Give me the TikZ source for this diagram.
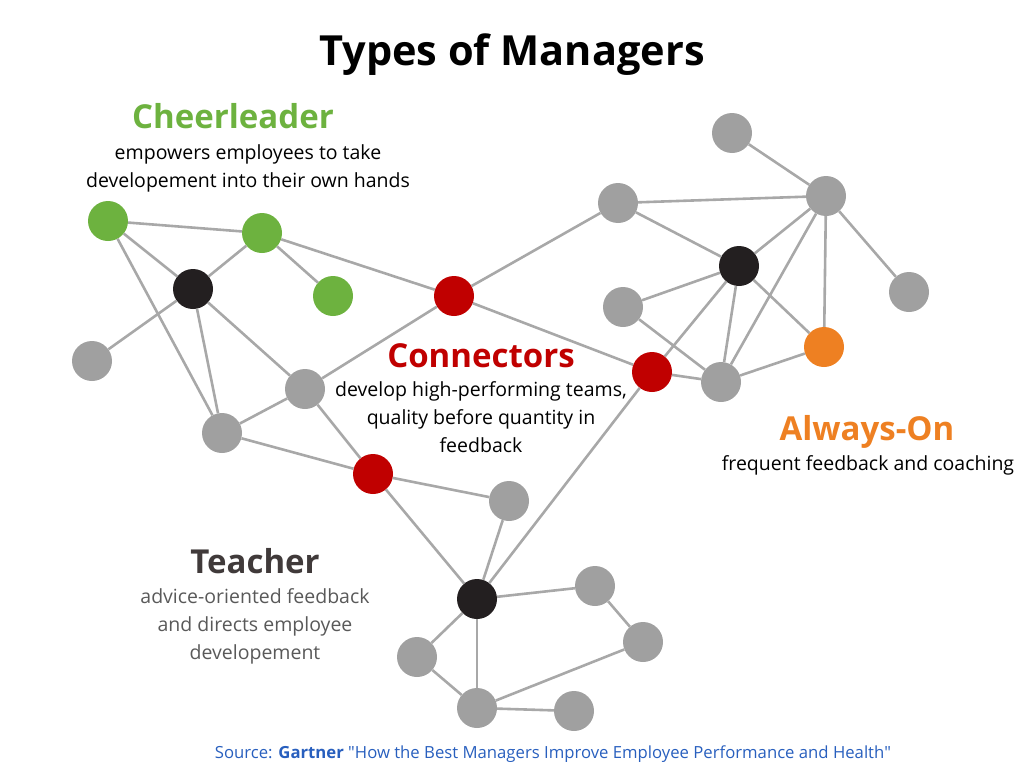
\documentclass[tikz,border=0pt]{standalone}
\usepackage{fontspec}
\setmainfont{Open Sans}
\usepackage{xcolor}
\usepackage{tikz}
\usetikzlibrary{positioning}
\definecolor{leafgreen}{RGB}{109,178,63}
\definecolor{linkred}{RGB}{192,0,0}
\definecolor{tangerine}{RGB}{238,128,34}
\definecolor{dotgray}{RGB}{160,160,160}
\definecolor{edgegray}{RGB}{168,168,168}
\definecolor{inkblack}{RGB}{35,31,32}
\definecolor{slate}{RGB}{64,58,58}
\definecolor{ashgray}{RGB}{89,89,89}
\definecolor{sourceblue}{RGB}{40,95,190}

\begin{document}
\begin{tikzpicture}[x=1pt, y=-1pt]
  \tikzstyle{mgrdot} = [circle, minimum size=40pt, inner sep=0pt, fill=dotgray]
  \tikzstyle{mgrlink} = [draw=edgegray, line width=2.6pt]
  \tikzstyle{mgrhead} = [anchor=base, font=\fontsize{33}{40}\selectfont\bfseries]
  \tikzstyle{mgrtext} = [anchor=base, align=center, font=\fontsize{19.5}{28}\selectfont]

  \useasboundingbox (0,0) rectangle (1024,768);

  % titles and descriptions (base = last line)
  \node [anchor=base, font=\fontsize{41.5}{48}\selectfont\bfseries] (title) at (512,65) {Types of Managers};
  \node [mgrhead, leafgreen] (cheer) at (233,128) {Cheerleader};
  \node [mgrtext, text=black] (cheerdesc) at (248,187) {empowers employees to take\\developement into their own hands};
  \node [mgrhead, linkred] (conn) at (481,367) {Connectors};
  \node [mgrtext, text=black] (conndesc) at (481,452) {develop high-performing teams,\\quality before quantity in\\feedback};
  \node [mgrhead, tangerine] (always) at (867,440) {Always-On};
  \node [mgrtext, text=black] (alwaysdesc) at (868,470) {frequent feedback and coaching};
  \node [mgrhead, slate] (teach) at (255,573) {Teacher};
  \node [mgrtext, text=ashgray] (teachdesc) at (255,659) {advice-oriented feedback\\and directs employee\\developement};
  \node [anchor=base, font=\fontsize{16.7}{20}\selectfont, text=sourceblue] (source) at (553,758)
    {Source: \textbf{Gartner} \textquotedbl How the Best Managers Improve Employee Performance and Health\textquotedbl};

  % network dots
  \node [mgrdot, fill=leafgreen] (g1) at (108,221) {};
  \node [mgrdot, fill=leafgreen] (g2) at (262,233) {};
  \node [mgrdot, fill=leafgreen] (g3) at (333,296) {};
  \node [mgrdot, fill=inkblack] (b1) at (193,289) {};
  \node [mgrdot] (a1) at (92,361) {};
  \node [mgrdot] (a2) at (305,389) {};
  \node [mgrdot] (a3) at (222,433) {};
  \node [mgrdot, fill=linkred] (r1) at (454,296) {};
  \node [mgrdot, fill=linkred] (r2) at (373,474) {};
  \node [mgrdot] (a4) at (509,501) {};
  \node [mgrdot, fill=inkblack] (b3) at (477,599) {};
  \node [mgrdot] (a5) at (595,586) {};
  \node [mgrdot] (a6) at (643,642) {};
  \node [mgrdot] (a7) at (417,657) {};
  \node [mgrdot] (a8) at (477,708) {};
  \node [mgrdot] (a9) at (574,711) {};
  \node [mgrdot] (a10) at (732,133) {};
  \node [mgrdot] (a11) at (826,196) {};
  \node [mgrdot] (a12) at (618,203) {};
  \node [mgrdot, fill=inkblack] (b2) at (739,266) {};
  \node [mgrdot] (a13) at (909,292) {};
  \node [mgrdot] (a14) at (623,307) {};
  \node [mgrdot, fill=tangerine] (o1) at (824,347) {};
  \node [mgrdot, fill=linkred] (r3) at (652,372) {};
  \node [mgrdot] (a15) at (721,382) {};

  % links
  \foreach \from/\to in {g1/g2, g1/b1, g1/a3, g2/b1, g2/g3, g2/r1, b1/a1, b1/a3, b1/a2,
      a2/r1, a2/a3, a2/r2, a3/r2, r1/a12, r1/r3, r2/a4, r2/b3, b3/a4, b3/r3, b3/a5,
      b3/a7, b3/a8, a5/a6, a6/a8, a7/a8, a8/a9, a10/a11, a12/a11, a12/b2, b2/a11,
      b2/a14, b2/r3, b2/a15, b2/o1, a11/a13, a11/a15, a11/o1, a14/a15, r3/a15, a15/o1}
    \draw [mgrlink] (\from) -- (\to);
\end{tikzpicture}
\end{document}
